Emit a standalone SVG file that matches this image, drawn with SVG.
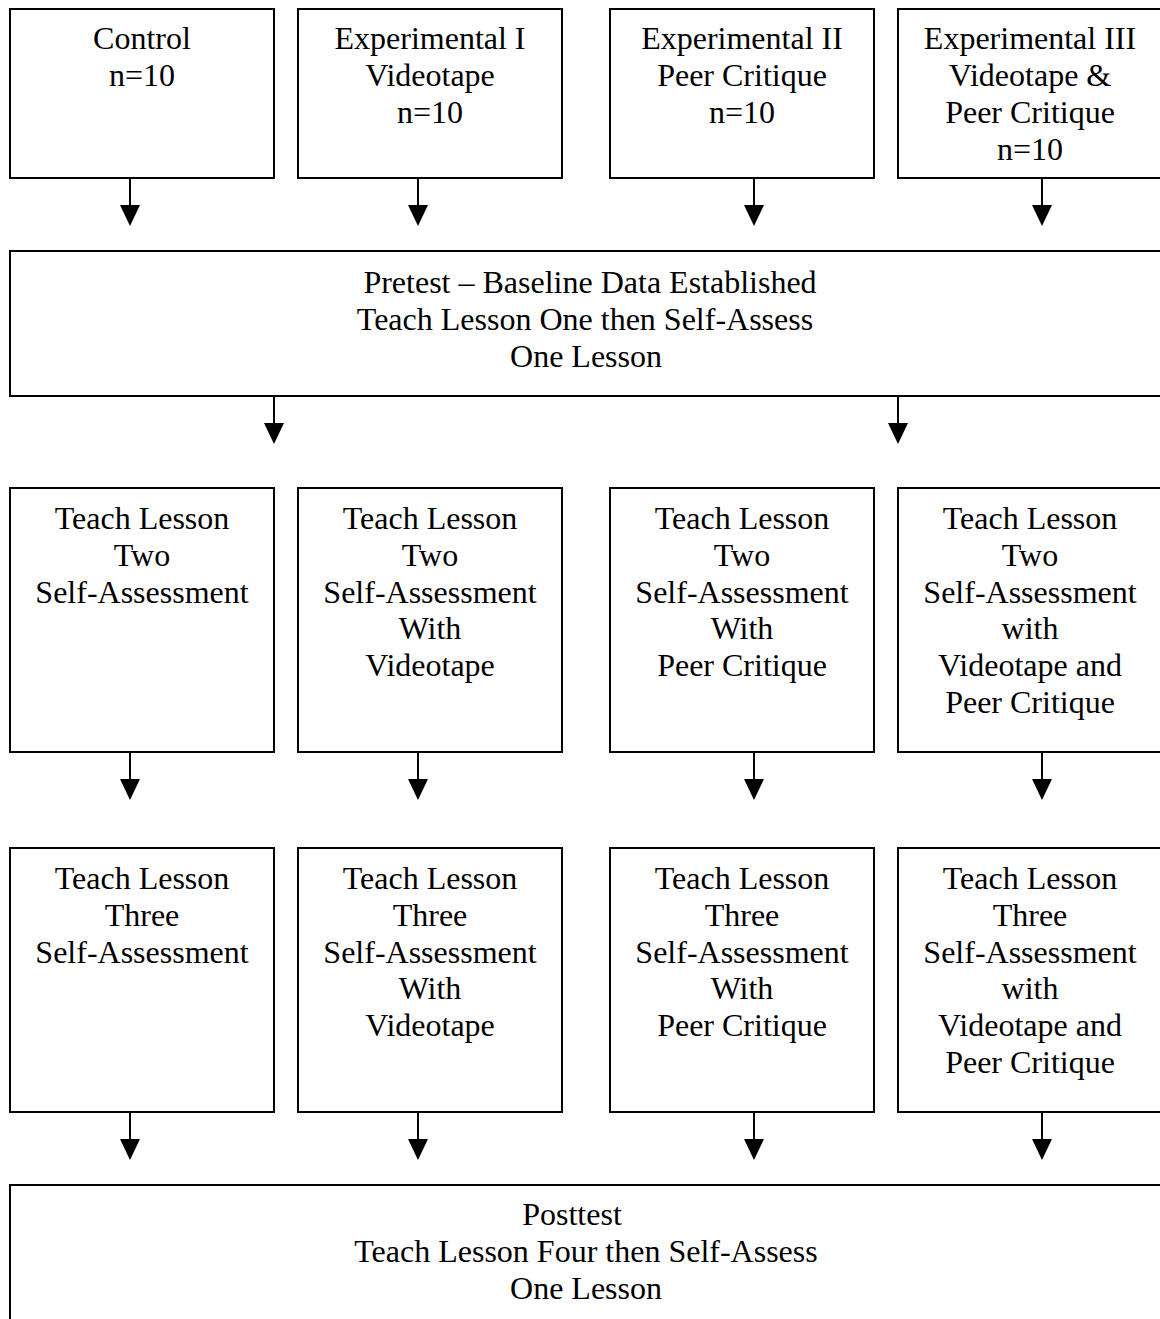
<svg xmlns="http://www.w3.org/2000/svg" width="1160" height="1319" viewBox="0 0 1160 1319">
<style>
.box{fill:#fff;stroke:#000;stroke-width:2}
.t{font-family:"Liberation Serif","Times New Roman",serif;font-size:32px;fill:#000;text-anchor:middle}
.ln{stroke:#000;stroke-width:2}
</style>
<defs>
<polygon id="ah" points="-10,0 10,0 0,21" fill="#000"/>
</defs>
<rect width="1160" height="1319" fill="#fff"/>
<g id="control">
<rect class="box" x="10" y="9" width="264" height="169"/>
<text class="t" x="142" y="49">Control</text>
<text class="t" x="142" y="86">n=10</text>
</g>
<g id="exp1">
<rect class="box" x="298" y="9" width="264" height="169"/>
<text class="t" x="430" y="49">Experimental I</text>
<text class="t" x="430" y="86">Videotape</text>
<text class="t" x="430" y="123">n=10</text>
</g>
<g id="exp2">
<rect class="box" x="610" y="9" width="264" height="169"/>
<text class="t" x="742" y="49">Experimental II</text>
<text class="t" x="742" y="86">Peer Critique</text>
<text class="t" x="742" y="123">n=10</text>
</g>
<g id="exp3">
<rect class="box" x="898" y="9" width="270" height="169"/>
<text class="t" x="1030" y="49">Experimental III</text>
<text class="t" x="1030" y="86">Videotape &amp;</text>
<text class="t" x="1030" y="123">Peer Critique</text>
<text class="t" x="1030" y="160">n=10</text>
</g>
<g id="pretest">
<rect class="box" x="10" y="251" width="1162" height="145"/>
<text class="t" x="590" y="293">Pretest – Baseline Data Established</text>
<text class="t" x="585" y="330">Teach Lesson One then Self-Assess</text>
<text class="t" x="586" y="367">One Lesson</text>
</g>
<g id="l2c">
<rect class="box" x="10" y="488" width="264" height="264"/>
<text class="t" x="142" y="529">Teach Lesson</text>
<text class="t" x="142" y="566">Two</text>
<text class="t" x="142" y="603">Self-Assessment</text>
</g>
<g id="l2v">
<rect class="box" x="298" y="488" width="264" height="264"/>
<text class="t" x="430" y="529">Teach Lesson</text>
<text class="t" x="430" y="566">Two</text>
<text class="t" x="430" y="603">Self-Assessment</text>
<text class="t" x="430" y="639">With</text>
<text class="t" x="430" y="676">Videotape</text>
</g>
<g id="l2p">
<rect class="box" x="610" y="488" width="264" height="264"/>
<text class="t" x="742" y="529">Teach Lesson</text>
<text class="t" x="742" y="566">Two</text>
<text class="t" x="742" y="603">Self-Assessment</text>
<text class="t" x="742" y="639">With</text>
<text class="t" x="742" y="676">Peer Critique</text>
</g>
<g id="l2vp">
<rect class="box" x="898" y="488" width="270" height="264"/>
<text class="t" x="1030" y="529">Teach Lesson</text>
<text class="t" x="1030" y="566">Two</text>
<text class="t" x="1030" y="603">Self-Assessment</text>
<text class="t" x="1030" y="639">with</text>
<text class="t" x="1030" y="676">Videotape and</text>
<text class="t" x="1030" y="713">Peer Critique</text>
</g>
<g id="l3c">
<rect class="box" x="10" y="848" width="264" height="264"/>
<text class="t" x="142" y="889">Teach Lesson</text>
<text class="t" x="142" y="926">Three</text>
<text class="t" x="142" y="963">Self-Assessment</text>
</g>
<g id="l3v">
<rect class="box" x="298" y="848" width="264" height="264"/>
<text class="t" x="430" y="889">Teach Lesson</text>
<text class="t" x="430" y="926">Three</text>
<text class="t" x="430" y="963">Self-Assessment</text>
<text class="t" x="430" y="999">With</text>
<text class="t" x="430" y="1036">Videotape</text>
</g>
<g id="l3p">
<rect class="box" x="610" y="848" width="264" height="264"/>
<text class="t" x="742" y="889">Teach Lesson</text>
<text class="t" x="742" y="926">Three</text>
<text class="t" x="742" y="963">Self-Assessment</text>
<text class="t" x="742" y="999">With</text>
<text class="t" x="742" y="1036">Peer Critique</text>
</g>
<g id="l3vp">
<rect class="box" x="898" y="848" width="270" height="264"/>
<text class="t" x="1030" y="889">Teach Lesson</text>
<text class="t" x="1030" y="926">Three</text>
<text class="t" x="1030" y="963">Self-Assessment</text>
<text class="t" x="1030" y="999">with</text>
<text class="t" x="1030" y="1036">Videotape and</text>
<text class="t" x="1030" y="1073">Peer Critique</text>
</g>
<g id="posttest">
<rect class="box" x="10" y="1185" width="1170" height="160"/>
<text class="t" x="572" y="1225">Posttest</text>
<text class="t" x="586" y="1262">Teach Lesson Four then Self-Assess</text>
<text class="t" x="586" y="1299">One Lesson</text>
</g>
<g id="connectors">
<line class="ln" x1="130" y1="178" x2="130" y2="206"/><use href="#ah" x="130" y="205"/>
<line class="ln" x1="418" y1="178" x2="418" y2="206"/><use href="#ah" x="418" y="205"/>
<line class="ln" x1="754" y1="178" x2="754" y2="206"/><use href="#ah" x="754" y="205"/>
<line class="ln" x1="1042" y1="178" x2="1042" y2="206"/><use href="#ah" x="1042" y="205"/>
<line class="ln" x1="274" y1="396" x2="274" y2="424"/><use href="#ah" x="274" y="423"/>
<line class="ln" x1="898" y1="396" x2="898" y2="424"/><use href="#ah" x="898" y="423"/>
<line class="ln" x1="130" y1="752" x2="130" y2="780"/><use href="#ah" x="130" y="779"/>
<line class="ln" x1="418" y1="752" x2="418" y2="780"/><use href="#ah" x="418" y="779"/>
<line class="ln" x1="754" y1="752" x2="754" y2="780"/><use href="#ah" x="754" y="779"/>
<line class="ln" x1="1042" y1="752" x2="1042" y2="780"/><use href="#ah" x="1042" y="779"/>
<line class="ln" x1="130" y1="1112" x2="130" y2="1140"/><use href="#ah" x="130" y="1139"/>
<line class="ln" x1="418" y1="1112" x2="418" y2="1140"/><use href="#ah" x="418" y="1139"/>
<line class="ln" x1="754" y1="1112" x2="754" y2="1140"/><use href="#ah" x="754" y="1139"/>
<line class="ln" x1="1042" y1="1112" x2="1042" y2="1140"/><use href="#ah" x="1042" y="1139"/>
</g>
</svg>
